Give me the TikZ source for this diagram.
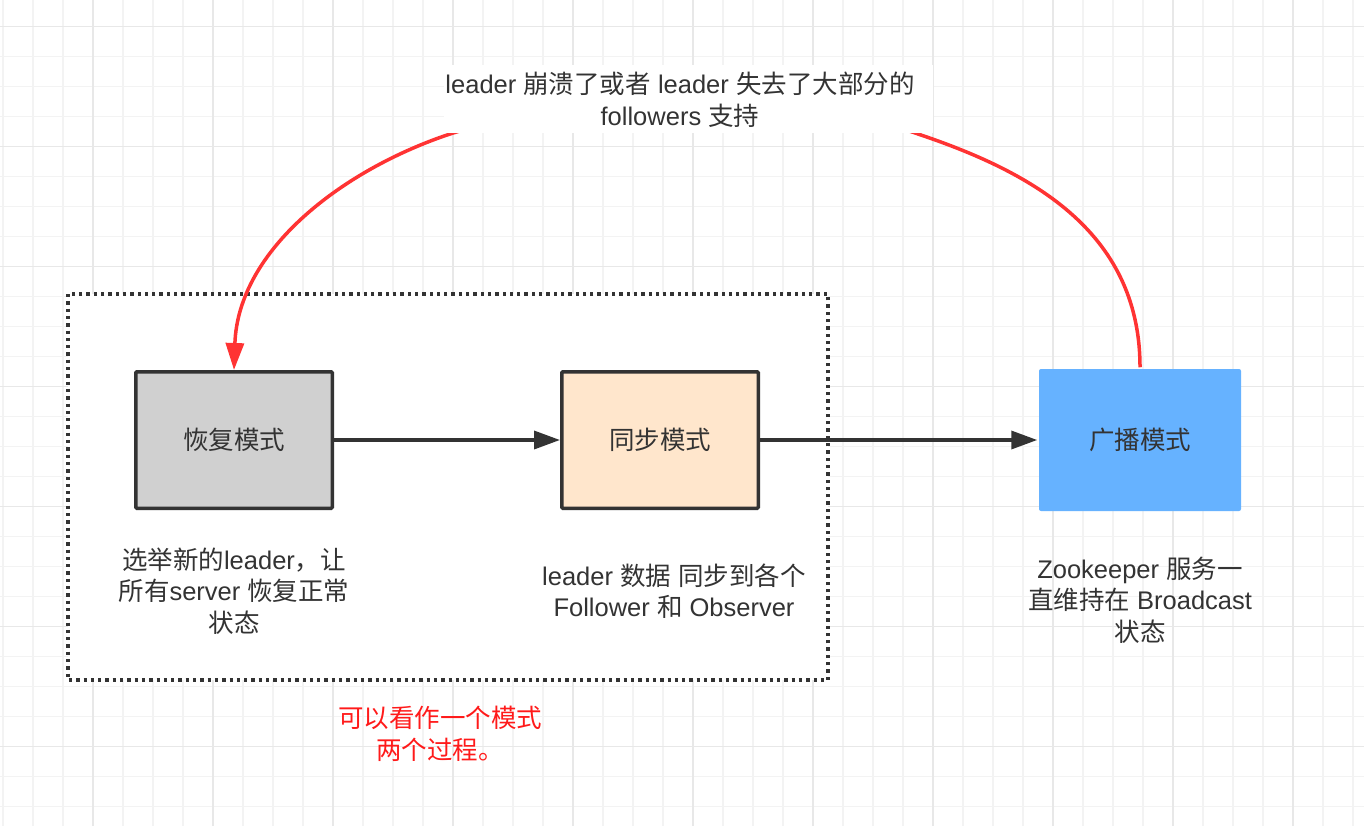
\documentclass[tikz,border=0pt]{standalone}
\usepackage{fontspec}
\setmainfont{Liberation Sans}
\newfontfamily\cjk{Noto Sans CJK SC}
\usetikzlibrary{arrows.meta}
\newcommand\zh[1]{{\cjk #1}}
\definecolor{ink}{HTML}{333333}
\definecolor{gridminor}{HTML}{F3F3F3}
\definecolor{gridmajor}{HTML}{E8E8E8}
\definecolor{redline}{HTML}{FF3333}
\definecolor{redtext}{HTML}{FF1A1A}
\definecolor{grayfill}{HTML}{D0D0D0}
\definecolor{orangefill}{HTML}{FFE6CC}
\definecolor{bluefill}{HTML}{66B2FF}
\begin{document}
\begin{tikzpicture}[x=1pt,y=-1pt,
  minorline/.style={draw=gridminor, line width=1.3pt},
  majorline/.style={draw=gridmajor, line width=1.3pt},
  txt/.style={text=ink, font=\fontsize{25.5}{31.5}\selectfont, align=center, inner sep=0pt},
  modebox/.style={txt, line width=3.5pt, minimum width=196.5pt, minimum height=136.5pt, rounded corners=1pt},
  flow/.style={draw=ink, line width=3.5pt, -{Triangle[length=26pt,width=18pt]}},
  redflow/.style={draw=redline, line width=3.5pt, -{Triangle[length=27pt,width=18pt]}},
  dotbox/.style={draw=ink, fill=white, line width=3.2pt, dash pattern=on 3.3pt off 4pt}
  ]
\useasboundingbox (0,0) rectangle (1364,826);
\fill[white] (0,0) rectangle (1364,826);
% grid
\foreach \i in {0,...,45} \draw[minorline] (3+30*\i,0) -- (3+30*\i,826);
\foreach \j in {0,...,26} \draw[minorline] (0,26.7+30*\j) -- (1364,26.7+30*\j);
\foreach \i in {0,...,10} \draw[majorline] (93+120*\i,0) -- (93+120*\i,826);
\foreach \j in {0,...,6} \draw[majorline] (0,26.7+120*\j) -- (1364,26.7+120*\j);

% dotted group box
\draw[dotbox] (68,294) rectangle (828,680);

% mode boxes
\node[modebox, draw=ink, fill=grayfill] (b1) at (234,440) {\zh{恢复模式}};
\node[modebox, draw=ink, fill=orangefill] (b2) at (660,440) {\zh{同步模式}};
\node[modebox, fill=bluefill, minimum width=202pt, minimum height=142pt, rounded corners=2pt] (b3) at (1140,440) {\zh{广播模式}};

% red curved edge
\coordinate (c1) at (918,134);
\coordinate (c2) at (450,134);
\draw[redflow] (b3.north) .. controls (1140,228) and (1025,170) .. (c1)
  .. controls (820,98) and (560,98) .. (c2)
  .. controls (342,170) and (238,250) .. (b1.north);

% top label
\node[fill=white, minimum width=489pt, minimum height=68pt, inner sep=0pt] (labbg) at (688.5,99) {};
\node[txt] (lab) at (680,100) {leader \zh{崩溃了或者} leader \zh{失去了大部分的}\\followers \zh{支持}};

% flow arrows
\draw[flow] (b1.east) -- (b2.west);
\draw[flow] (b2.east) -- (b3.west);

% descriptions
\node[txt] (d1) at (234,591) {\zh{选举新的}leader\zh{，让}\\\zh{所有}server \zh{恢复正常}\\\zh{状态}};
\node[txt] (d2) at (674,591) {leader \zh{数据} \zh{同步到各个}\\Follower \zh{和} Observer};
\node[txt] (d3) at (1140,600) {Zookeeper \zh{服务一}\\\zh{直维持在} Broadcast\\\zh{状态}};
\node[txt, text=redtext] (note) at (440,734) {\zh{可以看作一个模式}\\\zh{两个过程。}};
\end{tikzpicture}
\end{document}
